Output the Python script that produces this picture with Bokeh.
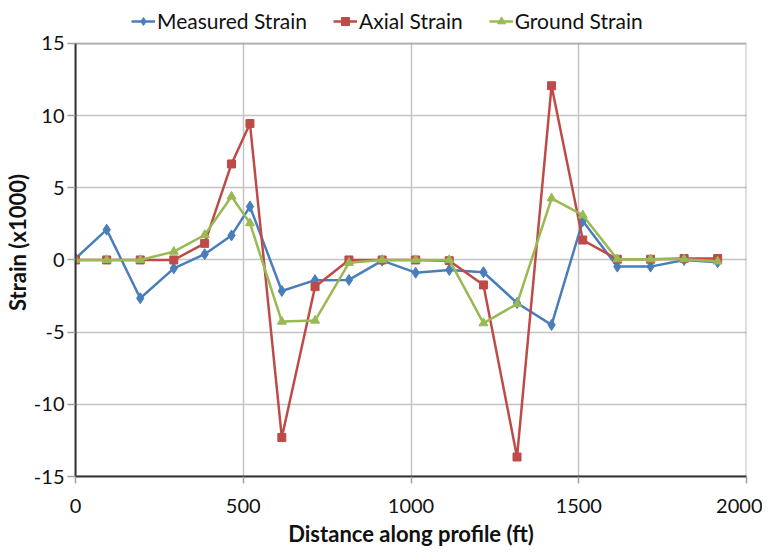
from bokeh.plotting import figure
from bokeh.models import (Range1d, SingleIntervalTicker, Legend, LegendItem,
                          NumeralTickFormatter, BoxAnnotation)
from bokeh.embed import file_html
from bokeh.resources import INLINE

distance = [0, 93, 193, 293, 385, 465, 520, 615, 714, 815, 914, 1014, 1114, 1216, 1316, 1419, 1512, 1615, 1714, 1814, 1914]
measured = [0.1, 2.1, -2.65, -0.58, 0.4, 1.7, 3.7, -2.15, -1.4, -1.38, -0.05, -0.88, -0.69, -0.85, -2.98, -4.5, 2.7, -0.46, -0.46, 0.0, -0.15]
axial = [0.0, 0.0, 0.0, 0.0, 1.15, 6.65, 9.45, -12.3, -1.85, 0.0, 0.0, 0.0, -0.05, -1.73, -13.65, 12.07, 1.38, 0.05, 0.05, 0.1, 0.1]
ground = [0.0, 0.0, 0.0, 0.58, 1.73, 4.4, 2.55, -4.27, -4.2, -0.2, 0.0, 0.0, 0.0, -4.38, -3.05, 4.27, 3.1, 0.05, 0.05, 0.05, -0.1]

series_names = ["Measured Strain", "Axial Strain", "Ground Strain"]
markers = ["diamond", "square", "triangle"]
marker_sizes = [11, 8, 9]
colors = ["#4a7ebb", "#be4b48", "#98b954"]
x_label = "Distance along profile (ft)"
y_label = "Strain (x1000)"
x_min, x_max = 0, 2000
y_min, y_max = -15, 15

FONT = "Lato"
FRAME_H = 434          # px height of the plotted box (y_min..y_max)
STRIP_H = 35           # px strip above the box that holds the legend
y_top = y_max + STRIP_H * (y_max - y_min) / FRAME_H

p = figure(width=762, height=549, output_backend="svg", toolbar_location=None,
           x_range=Range1d(x_min, x_max), y_range=Range1d(y_min, y_top),
           min_border_left=71, min_border_right=16, min_border_top=8, min_border_bottom=72)
p.outline_line_color = None

for ax in (p.xaxis[0], p.yaxis[0]):
    ax.axis_line_color = "#333333"
    ax.axis_line_width = 2
    ax.major_tick_line_color = "#a0a0a0"
    ax.major_tick_line_width = 1.5
    ax.major_tick_in = 0
    ax.minor_tick_line_color = None
    ax.major_label_text_font = FONT
    ax.major_label_text_font_size = "20px"
    ax.major_label_text_color = "#111111"
    ax.axis_label_text_font = FONT
    ax.axis_label_text_font_size = "22px"
    ax.axis_label_text_font_style = "bold"
    ax.axis_label_text_color = "#111111"
    ax.formatter = NumeralTickFormatter(format="0")

p.xaxis[0].ticker = SingleIntervalTicker(interval=500)
p.yaxis[0].ticker = SingleIntervalTicker(interval=5)
p.yaxis[0].bounds = (y_min, y_max)
p.xaxis[0].axis_label = x_label
p.yaxis[0].axis_label = y_label
p.xaxis[0].major_tick_out = 7
p.yaxis[0].major_tick_out = 8
p.xaxis[0].major_label_standoff = 15
p.yaxis[0].major_label_standoff = 3
p.xaxis[0].axis_label_standoff = 4
p.yaxis[0].axis_label_standoff = 0

p.xgrid.ticker = SingleIntervalTicker(interval=500)
p.ygrid.ticker = SingleIntervalTicker(interval=5)
p.grid.grid_line_color = "#c4c4c4"
p.grid.grid_line_width = 1.5

# white strip above the plotted box (hides grid there), and the box outline
p.add_layout(BoxAnnotation(bottom=y_max, fill_color="white", fill_alpha=1,
                           line_alpha=0, level="underlay"))
p.add_layout(BoxAnnotation(bottom=y_min, top=y_max, fill_alpha=0,
                           line_color="#333333", line_width=2, level="overlay"))

items = []
for name, ys, mk, ms, c in zip(series_names, [measured, axial, ground], markers, marker_sizes, colors):
    r1 = p.line(distance, ys, line_color=c, line_width=2.5)
    r2 = p.scatter(distance, ys, marker=mk, size=ms, fill_color=c, line_color=c)
    items.append(LegendItem(label=name, renderers=[r1, r2]))

legend = Legend(items=items, orientation="horizontal", location=(56, 443),
                label_text_font=FONT, label_text_font_size="21px", label_text_color="#111111",
                border_line_color=None, background_fill_alpha=0,
                glyph_width=24, glyph_height=20, label_standoff=2, spacing=26,
                padding=0, margin=0)
p.add_layout(legend)

open("out.html", "w").write(file_html(p, INLINE))
